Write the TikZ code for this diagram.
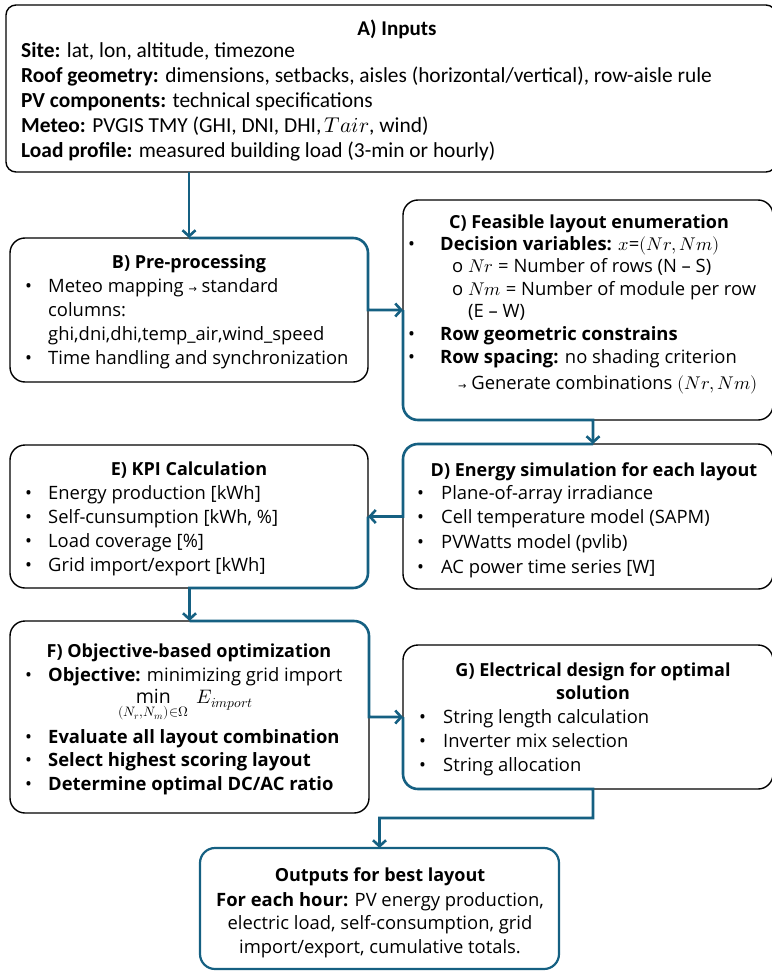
\documentclass[tikz,border=0pt]{standalone}
\usepackage{fontspec}
\usepackage{unicode-math}
\setmathfont{Latin Modern Math}
\setmainfont{Open Sans}
\newfontfamily\narrowfont{Carlito}
\newfontfamily\symfont{DejaVu Sans}
\usetikzlibrary{arrows.meta}
\definecolor{connblue}{HTML}{156082}
\newcommand\sarr{{\symfont\fontsize{10}{10}\selectfont →}}
\tikzset{
  box/.style={draw=black, line width=1.4pt, rounded corners=15pt, inner sep=0pt, outer sep=0pt},
  outbox/.style={box, draw=connblue, line width=2.2pt},
  conn/.style={draw=connblue, line width=2.6pt, -{Straight Barb[length=6pt,width=13pt]}},
  body/.style={inner sep=0pt, font=\fontsize{18.4}{24}\selectfont, anchor=base west},
  ttl/.style={inner sep=0pt, font=\bfseries\fontsize{18}{24}\selectfont, anchor=base},
}
\begin{document}
\begin{tikzpicture}[x=1pt,y=-1pt]
\useasboundingbox (0,0) rectangle (771,971);

% boxes
\node[box, rounded corners=10pt, minimum width=770pt, minimum height=167pt] (A) at (391,88.5) {};
\node[box, minimum width=358pt, minimum height=144pt] (B) at (189,310) {};
\node[box, minimum width=370pt, minimum height=220pt] (C) at (588,310) {};
\node[box, minimum width=370pt, minimum height=145pt] (D) at (588,516.5) {};
\node[box, minimum width=358pt, minimum height=143pt] (E) at (189,516.5) {};
\node[box, minimum width=359pt, minimum height=192pt] (F) at (189.5,717) {};
\node[box, minimum width=370pt, minimum height=144pt] (G) at (588,717) {};
\node[outbox, minimum width=359pt, minimum height=121pt] (Out) at (379.5,908.5) {};

% A text
\node[ttl, font=\narrowfont\bfseries\fontsize{21}{24.8}\selectfont] (At) at (397,36) {A) Inputs};
\node[body, font=\narrowfont\fontsize{21.4}{24.8}\selectfont] (Ax) at (21,58) {\begin{tabular}[t]{@{}l@{}}
\textbf{Site:} lat, lon, altitude, timezone\\
\textbf{Roof geometry:} dimensions, setbacks, aisles (horizontal/vertical), row-aisle rule\\
\textbf{PV components:} technical specifications\\
\textbf{Meteo:} PVGIS TMY (GHI, DNI, DHI,$\,Tair$, wind)\\
\textbf{Load profile:} measured building load (3-min or hourly)
\end{tabular}};

% B text
\node[ttl] (Bt) at (189,268) {B) Pre-processing};
\node[body] (Bx) at (25,292) {\begin{tabular}[t]{@{}p{23pt}@{}l@{}}
• & Meteo mapping \sarr{} standard\\
  & columns:\\
  & ghi,dni,dhi,temp\_air,wind\_speed\\
• & Time handling and synchronization
\end{tabular}};

% C text
\node[ttl] (Ct) at (589,228) {C) Feasible layout enumeration};
\node[body, font=\fontsize{18.4}{22.6}\selectfont] (Cx) at (408,250) {\begin{tabular}[t]{@{}p{32pt}@{}l@{}}
• & \textbf{Decision variables:} $x$=$(Nr,Nm)$\\
  & \hspace*{12pt}\makebox[16pt][l]{o}$Nr$ = Number of rows (N – S)\\
  & \hspace*{12pt}\makebox[16pt][l]{o}$Nm$ = Number of module per row\\
  & \hspace*{28pt}(E – W)\\
• & \textbf{Row geometric constrains}\\
• & \textbf{Row spacing:} no shading criterion\\[3.4pt]
  & \hspace*{18pt}\sarr{} Generate combinations $(Nr,Nm)$
\end{tabular}};

% D text
\node[ttl] (Dt) at (594,476) {D) Energy simulation for each layout};
\node[body, font=\fontsize{18.4}{24.7}\selectfont] (Dx) at (417,499) {\begin{tabular}[t]{@{}p{24pt}@{}l@{}}
• & Plane-of-array irradiance\\
• & Cell temperature model (SAPM)\\
• & PVWatts model (pvlib)\\
• & AC power time series [W]
\end{tabular}};

% E text
\node[ttl] (Et) at (189,475) {E) KPI Calculation};
\node[body, font=\fontsize{18.4}{24.3}\selectfont] (Ex) at (25,499) {\begin{tabular}[t]{@{}p{23pt}@{}l@{}}
• & Energy production [kWh]\\
• & Self-cunsumption [kWh, \%]\\
• & Load coverage [\%]\\
• & Grid import/export [kWh]
\end{tabular}};

% F text
\node[ttl] (Ft) at (189,657) {F) Objective-based optimization};
\node[body] (Fx1) at (25,681) {\makebox[23pt][l]{•}\textbf{Objective:} minimizing grid import};
\node[inner sep=0pt, anchor=base, font=\fontsize{19.5}{24}\selectfont] (Fm) at (186,703) {$\displaystyle\min_{(N_r,N_m)\in\Omega}\; E_{import}$};
\node[body, font=\fontsize{18.4}{23.5}\selectfont] (Fx2) at (25,743) {\begin{tabular}[t]{@{}p{23pt}@{}l@{}}
• & \textbf{Evaluate all layout combination}\\
• & \textbf{Select highest scoring layout}\\
• & \textbf{Determine optimal DC/AC ratio}
\end{tabular}};

% G text
\node[ttl] (Gt1) at (593,676) {G) Electrical design for optimal};
\node[ttl] (Gt2) at (593,699) {solution};
\node[body, font=\fontsize{18.4}{24}\selectfont] (Gx) at (419,723) {\begin{tabular}[t]{@{}p{24pt}@{}l@{}}
• & String length calculation\\
• & Inverter mix selection\\
• & String allocation
\end{tabular}};

% Output text
\node[ttl] (Ot) at (380,881) {Outputs for best layout};
\node[inner sep=0pt, anchor=base, font=\fontsize{18.4}{23.5}\selectfont] (Ox) at (380,906) {\begin{tabular}[t]{@{}c@{}}
\textbf{For each hour:} PV energy production,\\
electric load, self-consumption, grid\\
import/export, cumulative totals.
\end{tabular}};

% connectors
\coordinate (Dn) at ([xshift=5pt]D.north);
\coordinate (Gb) at ([xshift=5pt]G.south);
\coordinate (Gk) at ([yshift=-29pt]Gb);

\draw[conn] (A.south -| B.north) -- (B.north);
\draw[conn] (B.north) -- ([xshift=-15pt]B.north east) arc[start angle=90,end angle=0,radius=15pt] -- (B.east) -- (C.west);
\draw[conn] (C.west) -- ([yshift=15pt]C.south west) arc[start angle=180,end angle=270,radius=15pt] -- (C.south -| Dn) -- (Dn);
\draw[conn] (Dn) -- ([xshift=15pt]D.north west) arc[start angle=90,end angle=180,radius=15pt] -- (D.west) -- (E.east);
\draw[conn] (E.east) -- ([yshift=15pt]E.south east) arc[start angle=0,end angle=-90,radius=15pt] -- (F.north |- E.south) -- (F.north);
\draw[conn] (F.north) -- ([xshift=-15pt]F.north east) arc[start angle=90,end angle=0,radius=15pt] -- (F.east) -- (G.west);
\draw[conn] (G.west) -- ([yshift=15pt]G.south west) arc[start angle=180,end angle=270,radius=15pt] -- (Gb) -- (Gk) -- (Gk -| Out.north) -- (Out.north);
\end{tikzpicture}
\end{document}
